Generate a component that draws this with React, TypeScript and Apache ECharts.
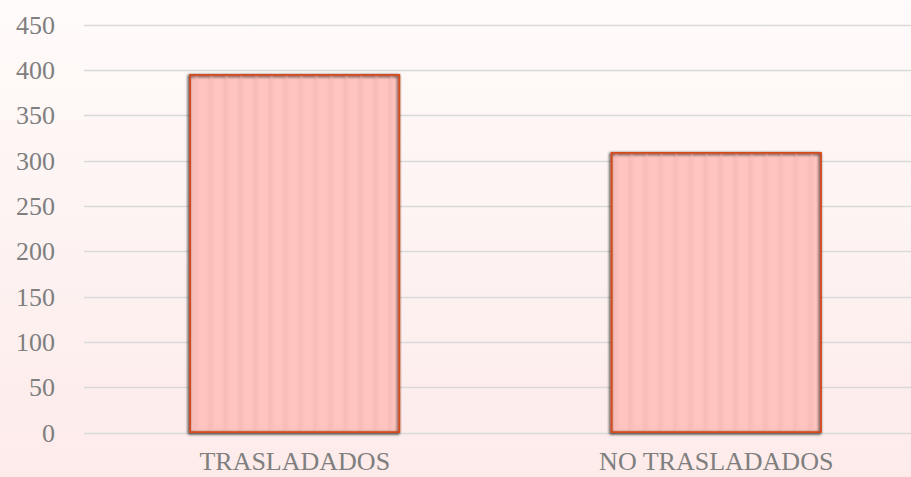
import React, { useEffect, useRef } from "react";
import * as echarts from "echarts";

const categories = ["TRASLADADOS", "NO TRASLADADOS"];
const values = [396, 310];
const yMin = 0;
const yMax = 450;
const yInterval = 50;

export default function App() {
  const ref = useRef<HTMLDivElement>(null);
  useEffect(() => {
    if (!ref.current) return;
    const chart = echarts.init(ref.current, null, { renderer: "svg" });
    chart.setOption({
      animation: false,
      backgroundColor: "transparent",
      grid: { left: 84, top: 25, right: 0, bottom: 44, containLabel: false, outerBoundsMode: "none" },
      xAxis: {
        type: "category",
        data: categories,
        axisLine: { show: false },
        axisTick: { show: false },
        axisLabel: {
          color: "#7f7f7f",
          fontFamily: "Liberation Serif",
          fontSize: 26,
          lineHeight: 20,
          margin: 18,
        },
      },
      yAxis: {
        type: "value",
        min: yMin,
        max: yMax,
        interval: yInterval,
        axisLine: { show: false },
        axisTick: { show: false },
        splitLine: { lineStyle: { color: "#d9d9d9", width: 1.3 } },
        axisLabel: {
          color: "#7f7f7f",
          fontFamily: "Liberation Serif",
          fontSize: 26,
          margin: 29,
          padding: [0, 0, 4, 0],
        },
      },
      series: [
        {
          type: "bar",
          data: values,
          barWidth: "50%",
          itemStyle: {
            color: "#ffc4c0",
            borderColor: "#d84a1c",
            borderWidth: 1.5,
            shadowColor: "rgba(0,0,0,0.3)",
            shadowBlur: 3,
            shadowOffsetX: -1,
            shadowOffsetY: 1,
            decal: {
              symbol: "rect",
              symbolSize: 1,
              color: "rgba(240,140,130,0.06)",
              dashArrayX: [3, 12],
              dashArrayY: [10, 0],
              rotation: 0,
            },
          },
        },
      ],
    });
    return () => chart.dispose();
  }, []);
  return (
    <div
      style={{
        position: "absolute",
        left: 0,
        top: 0,
        width: 911,
        height: 477,
        overflow: "hidden",
        background: "linear-gradient(to bottom, #fffbfa 0%, #fdf3f2 50%, #fdebea 100%)",
      }}
    >
      <div ref={ref} style={{ width: 927, height: 477 }} />
    </div>
  );
}
